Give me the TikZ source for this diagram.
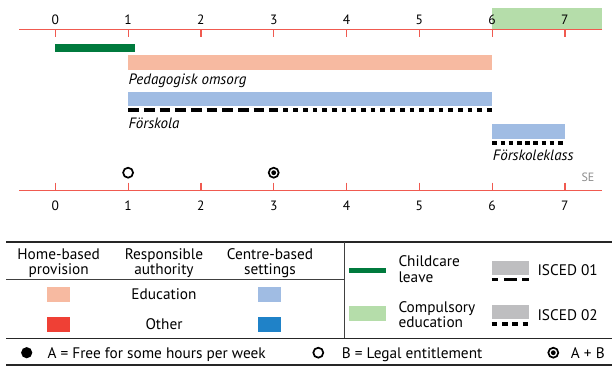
\documentclass[tikz,border=0pt]{standalone}
\usepackage{fontspec}
\setmainfont{PT Sans}
\definecolor{axisred}{RGB}{240,90,80}
\definecolor{salmon}{RGB}{247,186,161}
\definecolor{lblue}{RGB}{160,188,227}
\definecolor{dgreen}{RGB}{0,122,61}
\definecolor{lgreen}{RGB}{181,221,170}
\definecolor{ored}{RGB}{239,64,53}
\definecolor{oblue}{RGB}{31,130,200}
\definecolor{lgray}{RGB}{190,190,192}
\begin{document}
\begin{tikzpicture}[x=1pt,y=-1pt,
  axis/.style={draw=axisred,line width=1.2pt},
  num/.style={font=\fontsize{13.5}{15}\selectfont,anchor=base,inner sep=0pt},
  lab/.style={font=\fontsize{15}{15}\selectfont\itshape,anchor=base west,inner sep=0pt},
  leg/.style={font=\fontsize{15.3}{15}\selectfont,inner sep=0pt},
  isceda/.style={line width=3.2pt,dash pattern=on 10.7pt off 5pt},
  iscedb/.style={line width=3.8pt,dash pattern=on 4.7pt off 5pt},
  mark circle/.style={draw=black,line width=1.7pt,circle,inner sep=0pt,minimum size=10pt},
  thickrule/.style={line width=1.6pt,draw=black!85},
  thinrule/.style={line width=0.9pt,draw=black!75}
]
\useasboundingbox (0,0) rectangle (613,367);

% compulsory education band
\fill[lgreen] (492.3,8) rectangle (601.7,29.7);

% top axis
\draw[axis] (19,29.7) -- (601.7,29.7);
\foreach \i in {0,...,7}{
  \pgfmathsetmacro\xx{55.3+72.8*\i}
  \draw[axis] (\xx,29.7) -- (\xx,36.7);
  \node[num] (top\i) at (\xx,24) {\i};
}

% bottom axis
\draw[axis] (19,190.3) -- (601.7,190.3);
\foreach \i in {0,...,7}{
  \pgfmathsetmacro\xx{55.3+72.8*\i}
  \draw[axis] (\xx,182.7) -- (\xx,190.3);
  \node[num] (bot\i) at (\xx,210) {\i};
}

% bars
\fill[dgreen] (55.3,44.3) rectangle (134.7,51.7);
\fill[salmon] (128.1,55) rectangle (492.3,70);
\node[lab] (ped) at (128.3,84.5) {Pedagogisk omsorg};
\fill[lblue] (128.1,91.7) rectangle (492.3,106);
\draw[isceda] (128.1,110) -- (273.7,110);
\draw[iscedb] (273.7,110) -- (492.7,110);
\node[lab] (fsk) at (128.3,128.3) {Förskola};
\fill[lblue] (492.3,124.3) rectangle (565,139);
\draw[iscedb,dash pattern=on 4.7pt off 3.5pt] (492.3,142.7) -- (565.5,142.7);
\node[lab] (fkl) at (492.7,160.7) {Förskoleklass};

% entitlement markers
\node[mark circle] (mB) at (128.1,172.7) {};
\node[mark circle] (mAB) at (273.7,172.7) {};
\fill (mAB.center) circle (2.4pt);
\node[font=\fontsize{12}{12}\selectfont,text=black!45,anchor=base east,inner sep=0pt] (se) at (594.5,181) {SE};

% legend rules
\draw[thickrule] (6,241.7) -- (612,241.7);
\draw[thinrule] (6,279.3) -- (344,279.3);
\draw[thinrule] (344,241.7) -- (344,338.3);
\draw[thickrule] (6,338.3) -- (612,338.3);
\draw[line width=1.3pt,draw=black!85] (6,365) -- (612,365);

% legend headers
\node[leg,anchor=base] (h1a) at (58.7,259.3) {Home-based};
\node[leg,anchor=base] (h1b) at (58.7,274.3) {provision};
\node[leg,anchor=base] (h2a) at (164,259.3) {Responsible};
\node[leg,anchor=base] (h2b) at (164,274.3) {authority};
\node[leg,anchor=base] (h3a) at (270,259.3) {Centre-based};
\node[leg,anchor=base] (h3b) at (270,274.3) {settings};

\fill[salmon] (47,286.7) rectangle (70,301.7);
\node[leg,anchor=base] (edu) at (164,299) {Education};
\fill[lblue] (258,286.7) rectangle (281,301.7);
\fill[ored] (47,316.7) rectangle (70,331.7);
\node[leg,anchor=base] (oth) at (164,329) {Other};
\fill[oblue] (258,316.7) rectangle (281,331.7);

% right legend
\fill[dgreen] (349,267.7) rectangle (386,273);
\node[leg,anchor=base west] (ccla) at (398.3,266.7) {Childcare};
\node[leg,anchor=base west] (cclb) at (398.3,282.2) {leave};
\fill[lgreen] (349,305.7) rectangle (386,320.7);
\node[leg,anchor=base west] (cpea) at (398.3,312.7) {Compulsory};
\node[leg,anchor=base west] (cpeb) at (398.3,327) {education};
\fill[lgray] (491.7,260.7) rectangle (529.3,275);
\draw[line width=3pt,dash pattern=on 13pt off 5.5pt,dash phase=6.3pt] (491.7,279.3) -- (529.3,279.3);
\node[leg,anchor=base west] (i1) at (537.3,275) {ISCED 01};
\fill[lgray] (491.7,305) rectangle (529.3,319.3);
\draw[line width=4.4pt,dash pattern=on 5.6pt off 4.7pt] (491.7,324) -- (530,324);
\node[leg,anchor=base west] (i2) at (537.3,320.7) {ISCED 02};

% footer
\fill (26.7,352.7) circle (5.6pt);
\node[leg,anchor=base west] (fa) at (47.3,358.3) {A = Free for some hours per week};
\node[mark circle] (fb) at (318.3,352.7) {};
\node[leg,anchor=base west] (fbt) at (341.7,358.3) {B = Legal entitlement};
\node[mark circle] (fab) at (553.3,352.7) {};
\fill (fab.center) circle (2.4pt);
\node[leg,anchor=base west] (fabt) at (570.7,358.3) {A + B};
\end{tikzpicture}
\end{document}
